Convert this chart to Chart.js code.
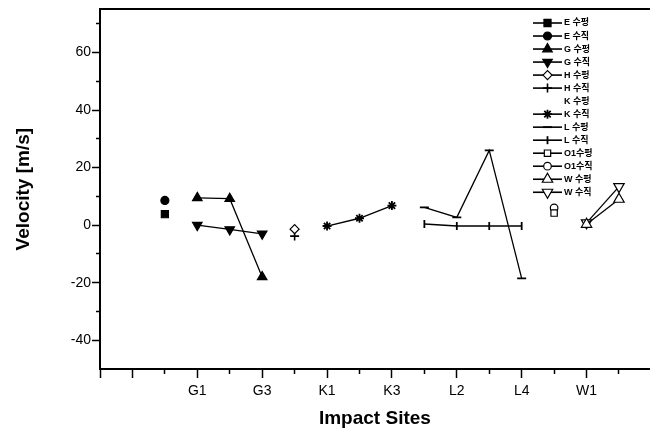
<!DOCTYPE html>
<html lang="ko">
<head>
<meta charset="UTF-8" />
<title>Velocity by impact site</title>
<script src="https://cdn.jsdelivr.net/npm/chart.js@4.4.0/dist/chart.umd.min.js"></script>
<style>
  html, body { margin: 0; padding: 0; background: #fff; }
  #wrap { width: 657px; height: 434px; }
</style>
</head>
<body>
<div id="wrap"><canvas id="chart" width="657" height="434"></canvas></div>
<script>
// x = position of the impact site on the category axis
const majorSiteTicks = [0, 1, 3, 5, 7, 9, 11, 13, 15];
const siteTickLabels = { 3: "G1", 5: "G3", 7: "K1", 9: "K3", 11: "L2", 13: "L4", 15: "W1" };
const minorSiteTicks = [2, 4, 6, 8, 10, 12, 14, 16];
const velocityTicks = [-40, -20, 0, 20, 40, 60];
const minorVelocityTicks = [-30, -10, 10, 30, 50, 70];

const eX = [2];
const eHoriz = [3.8];
const eVert = [8.6];
const gX = [3, 4, 5];
const gHoriz = [9.5, 9.2, -18];
const gVert = [0, -1.5, -3];
const hX = [6];
const hHoriz = [-1.4];
const hVert = [-3.8];
const kX = [7, 8, 9];
const kHoriz = [];
const kVert = [-0.3, 2.4, 6.8];
const lX = [10, 11, 12, 13];
const lHoriz = [6.2, 2.7, 26, -18.5];
const lVert = [0.4, -0.3, -0.3, -0.3];
const oX = [14];
const oHoriz = [4.2];
const oVert = [6];
const wX = [15, 16];
const wHoriz = [0.3, 9];
const wVert = [0.8, 13.4];

const FONT = "'Liberation Sans', Arial, 'Noto Sans CJK KR', sans-serif";
Chart.defaults.font.family = FONT;
Chart.defaults.color = "#000";

function series(label, xs, ys, st) {
  return {
    label,
    data: ys.map((y, i) => ({ x: xs[i], y })),
    showLine: true,
    borderColor: "#000",
    borderWidth: 1.3,
    pointStyle: st.shape || false,
    rotation: st.rot || 0,
    pointRadius: st.r || 4.5,
    pointBackgroundColor: st.open ? "#fff" : "#000",
    pointBorderColor: "#000",
    pointBorderWidth: st.bw || 1.2,
    legendLine: st.legendLine !== false,
  };
}

const datasets = [
  series("E 수평", eX, eHoriz, { shape: "rect", r: 5 }),
  series("E 수직", eX, eVert, { shape: "circle", r: 4 }),
  series("G 수평", gX, gHoriz, { shape: "triangle", r: 5.5 }),
  series("G 수직", gX, gVert, { shape: "triangle", rot: 180, r: 5.5 }),
  series("H 수평", hX, hHoriz, { shape: "rectRot", r: 4.5, open: true }),
  series("H 수직", hX, hVert, { shape: "cross", r: 4.5, bw: 1.6 }),
  series("K 수평", kX, kHoriz, { shape: false, legendLine: false }),
  series("K 수직", kX, kVert, { shape: "star", r: 4.5, bw: 1.8 }),
  series("L 수평", lX, lHoriz, { shape: "line", r: 4.5, bw: 1.8 }),
  series("L 수직", lX, lVert, { shape: "line", rot: 90, r: 4, bw: 1.8 }),
  series("O1수평", oX, oHoriz, { shape: "rect", r: 4.5, open: true }),
  series("O1수직", oX, oVert, { shape: "circle", r: 3.8, open: true }),
  series("W 수평", wX, wHoriz, { shape: "triangle", r: 6, open: true }),
  series("W 수직", wX, wVert, { shape: "triangle", rot: 180, r: 6, open: true }),
];

// legend drawn inside the plot, top right, like the original figure
const sideLegend = {
  id: "sideLegend",
  afterDatasetsDraw(chart) {
    const ctx = chart.ctx;
    ctx.save();
    chart.data.datasets.forEach((ds, i) => {
      const y = 23 + i * 13.02;
      if (ds.legendLine) {
        ctx.strokeStyle = "#000";
        ctx.lineWidth = 1.6;
        ctx.beginPath();
        ctx.moveTo(533, y);
        ctx.lineTo(562, y);
        ctx.stroke();
      }
      if (ds.pointStyle) {
        ctx.fillStyle = ds.pointBackgroundColor;
        ctx.strokeStyle = "#000";
        ctx.lineWidth = ds.pointBorderWidth;
        Chart.helpers.drawPoint(ctx, {
          pointStyle: ds.pointStyle,
          rotation: ds.rotation,
          radius: ds.pointRadius,
          borderWidth: ds.pointBorderWidth,
        }, 547.5, y);
      }
      ctx.fillStyle = "#000";
      ctx.font = "bold 9px " + FONT;
      ctx.textBaseline = "middle";
      ctx.textAlign = "left";
      ctx.fillText(ds.label, 564, y);
    });
    ctx.restore();
  },
};

const X_MIN = 0, X_MAX = 16.95;

new Chart(document.getElementById("chart"), {
  type: "scatter",
  data: { datasets },
  plugins: [sideLegend],
  options: {
    responsive: false,
    devicePixelRatio: 1,
    animation: false,
    layout: { padding: { top: 5, right: 0, bottom: 0, left: 0 } },
    plugins: { legend: { display: false }, tooltip: { enabled: false } },
    scales: {
      x: {
        type: "linear", position: "bottom", min: X_MIN, max: X_MAX, weight: 0,
        afterBuildTicks: (s) => { s.ticks = majorSiteTicks.map((v) => ({ value: v })); },
        afterFit: (s) => { s.height = 65; },
        ticks: {
          callback: (v) => siteTickLabels[v] || "",
          font: { size: 14 }, color: "#000", padding: 5, maxRotation: 0, autoSkip: false,
        },
        grid: { drawOnChartArea: false, drawTicks: true, tickLength: 9, tickWidth: 1.5, color: "#000" },
        border: { display: true, color: "#000", width: 2 },
        title: { display: true, text: "Impact Sites", font: { size: 19, weight: "bold" }, color: "#000", padding: { top: 0, bottom: 4 } },
      },
      xMinor: {
        type: "linear", position: "bottom", min: X_MIN, max: X_MAX, weight: -1,
        afterBuildTicks: (s) => { s.ticks = minorSiteTicks.map((v) => ({ value: v })); },
        afterFit: (s) => { s.height = 0; },
        ticks: { display: false },
        grid: { drawOnChartArea: false, drawTicks: true, tickLength: 5, tickWidth: 1.5, color: "#000" },
        border: { display: false },
      },
      xTop: {
        type: "linear", position: "top", min: X_MIN, max: X_MAX,
        afterFit: (s) => { s.height = 0; },
        ticks: { display: false },
        grid: { display: false },
        border: { display: true, color: "#000", width: 2 },
      },
      y: {
        type: "linear", position: "left", min: -50, max: 75, weight: 0,
        afterBuildTicks: (s) => { s.ticks = velocityTicks.map((v) => ({ value: v })); },
        afterFit: (s) => { s.width = 100; },
        ticks: { font: { size: 14 }, color: "#000", padding: 1 },
        grid: { drawOnChartArea: false, drawTicks: true, tickLength: 8, tickWidth: 1.5, color: "#000" },
        border: { display: true, color: "#000", width: 2 },
        title: { display: true, text: "Velocity [m/s]", font: { size: 19, weight: "bold" }, color: "#000", padding: { top: 12, bottom: 0 } },
      },
      yMinor: {
        type: "linear", position: "left", min: -50, max: 75, weight: -1,
        afterBuildTicks: (s) => { s.ticks = minorVelocityTicks.map((v) => ({ value: v })); },
        afterFit: (s) => { s.width = 0; },
        ticks: { display: false },
        grid: { drawOnChartArea: false, drawTicks: true, tickLength: 4, tickWidth: 1.5, color: "#000" },
        border: { display: false },
      },
    },
  },
});
</script>
</body>
</html>
